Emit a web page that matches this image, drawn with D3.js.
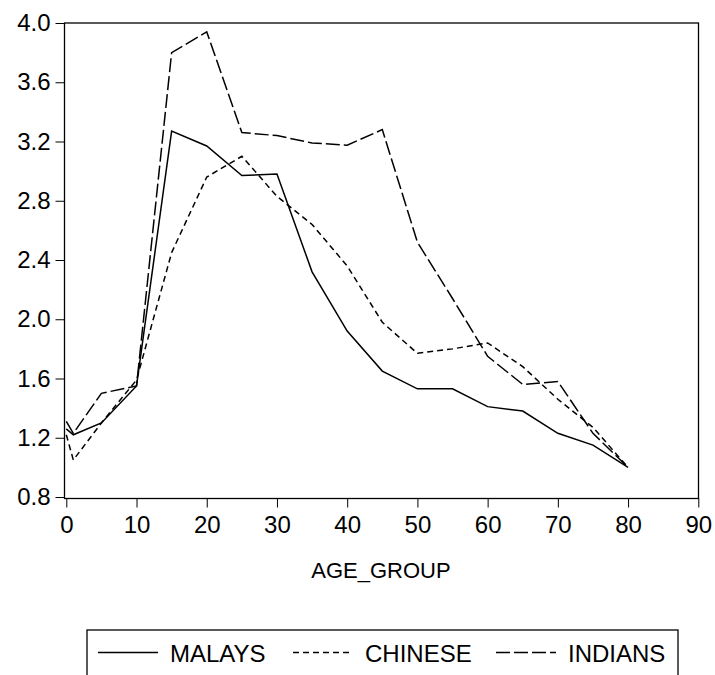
<!DOCTYPE html>
<html><head><meta charset="utf-8">
<script src="https://cdn.jsdelivr.net/npm/d3@7"></script>
<style>html,body{margin:0;padding:0;background:#fff;}svg{display:block;}</style>
</head><body>
<svg id="c" width="715" height="675"></svg>
<script>
const ages = [0,1,5,10,15,20,25,30,35,40,45,50,55,60,65,70,75,80];
const malays  = [1.26,1.22,1.30,1.55,3.27,3.17,2.97,2.98,2.32,1.92,1.65,1.53,1.53,1.41,1.38,1.23,1.15,1.00];
const chinese = [1.22,1.05,1.30,1.59,2.45,2.96,3.10,2.83,2.64,2.36,1.98,1.77,1.80,1.84,1.68,1.46,1.27,1.00];
const indians = [1.31,1.23,1.50,1.55,3.80,3.94,3.26,3.24,3.19,3.175,3.28,2.52,2.14,1.75,1.56,1.58,1.23,1.00];
const seriesNames = ["MALAYS","CHINESE","INDIANS"];
const xTicks = [0,10,20,30,40,50,60,70,80,90];
const yTicks = [0.8,1.2,1.6,2.0,2.4,2.8,3.2,3.6,4.0];
const xTitle = "AGE_GROUP";

const dashes = [null, "6,4", "14,4"];
const svg = d3.select("#c");
const font = "'Liberation Sans', Arial, sans-serif";
const L = 64.5, R = 698.5, T = 23, B = 498.5;
const x = d3.scaleLinear().domain([0,90]).range([66.3,698.3]);
const y = d3.scaleLinear().domain([0.8,4.0]).range([497,23]);

// frame
svg.append("rect").attr("x",L).attr("y",T).attr("width",R-L).attr("height",B-T)
  .attr("fill","none").attr("stroke","#000").attr("stroke-width",1.3);

// y axis
const ya = svg.append("g").attr("transform",`translate(${L},0)`)
  .call(d3.axisLeft(y).tickValues(yTicks).tickFormat(d3.format(".1f")).tickSize(9).tickSizeOuter(0));
ya.select(".domain").remove();
ya.selectAll("text").attr("font-family",font).attr("font-size",24).attr("fill","#000").attr("x",-14);
ya.selectAll("line").attr("stroke","#000");

// x axis
const xa = svg.append("g").attr("transform",`translate(0,${B})`)
  .call(d3.axisBottom(x).tickValues(xTicks).tickFormat(d3.format("d")).tickSize(9).tickSizeOuter(0));
xa.select(".domain").remove();
xa.selectAll("text").attr("font-family",font).attr("font-size",24).attr("fill","#000").attr("y",17);
xa.selectAll("line").attr("stroke","#000");

svg.append("text").attr("x",381).attr("y",578).attr("text-anchor","middle")
  .attr("font-family",font).attr("font-size",22).text(xTitle);

const data = [malays, chinese, indians];
const line = d3.line().x((d,i)=>x(ages[i])).y(d=>y(d));
data.forEach((s,k)=>{
  svg.append("path").datum(s).attr("d",line).attr("fill","none")
    .attr("stroke","#000").attr("stroke-width",1.5)
    .attr("stroke-dasharray",dashes[k]);
});

// legend
svg.append("rect").attr("x",87).attr("y",630).attr("width",591).attr("height",70)
  .attr("fill","none").attr("stroke","#000").attr("stroke-width",1.3);
const legX = [98, 293, 496];
seriesNames.forEach((n,k)=>{
  svg.append("line").attr("x1",legX[k]).attr("x2",legX[k]+60).attr("y1",652.5).attr("y2",652.5)
    .attr("stroke","#000").attr("stroke-width",1.3).attr("stroke-dasharray",dashes[k]);
  svg.append("text").attr("x",legX[k]+72).attr("y",661.5).attr("font-family",font)
    .attr("font-size",24).text(n);
});
</script>
</body></html>
